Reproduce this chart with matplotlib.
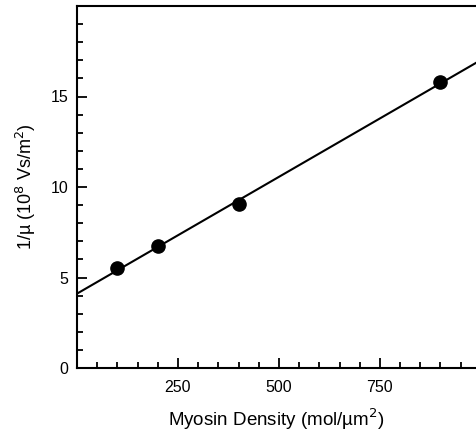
import numpy as np
import matplotlib
matplotlib.use("Agg")
import matplotlib.pyplot as plt
from matplotlib.ticker import MultipleLocator

plt.rcParams['font.family'] = ['Liberation Sans', 'DejaVu Sans']

# Données
densite = [100, 200, 400, 900]          # mol/um^2
inv_mu = [5.5, 6.73, 9.05, 15.8]         # 10^8 Vs/m^2

# Droite de régression
pente, ordonnee = np.polyfit(densite, inv_mu, 1)
x_fit = np.array([0, 1000])
y_fit = pente * x_fit + ordonnee

fig = plt.figure(figsize=(4.76, 4.34), dpi=100)
ax = fig.add_axes([77/476, 66/434, 1 - 77/476, (368 - 6)/434])

ax.plot(x_fit, y_fit, color='black', lw=1.5, zorder=2)
ax.plot(densite, inv_mu, 'o', color='black', ms=9.5, zorder=3)

ax.set_xlim(0, 988)
ax.set_ylim(0, 20)

ax.xaxis.set_minor_locator(MultipleLocator(50))
ax.yaxis.set_minor_locator(MultipleLocator(1))
ax.set_xticks([250, 500, 750])
ax.set_yticks([0, 5, 10, 15])

ax.tick_params(which='both', direction='in', width=1.3, labelsize=11.5)
ax.tick_params(which='major', length=7)
ax.tick_params(which='minor', length=4.3)
ax.tick_params(axis='x', pad=9)
ax.tick_params(axis='y', pad=6)
ax.tick_params(top=False, right=False, which='both')

for s in ['left', 'bottom', 'top']:
    ax.spines[s].set_linewidth(1.5)
ax.spines['right'].set_visible(False)

ax.set_xlabel('Myosin Density (mol/\u00b5m$^2$)', fontsize=13.5, labelpad=8)
ax.set_ylabel('1/\u00b5 (10$^8$ Vs/m$^2$)', fontsize=13, labelpad=9)

plt.savefig('out.png', dpi=100)
